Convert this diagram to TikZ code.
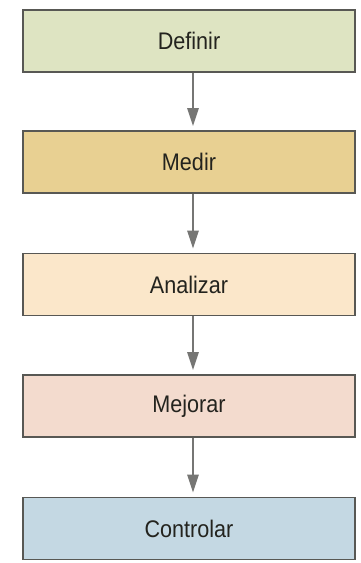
\documentclass[tikz,border=0pt]{standalone}
\usepackage{fontspec}
\setmainfont{Liberation Sans}[FakeStretch=0.9]
\usetikzlibrary{arrows.meta}
\newcommand{\BW}{332}
\newcommand{\BH}{62}
\definecolor{stdef}{RGB}{222,228,194}
\definecolor{stmed}{RGB}{232,208,146}
\definecolor{stana}{RGB}{251,231,202}
\definecolor{stmej}{RGB}{243,219,206}
\definecolor{stcon}{RGB}{196,216,227}
\definecolor{stline}{RGB}{88,88,84}
\definecolor{starrow}{RGB}{118,118,116}
\definecolor{sttext}{RGB}{35,35,30}

\begin{document}
\begin{tikzpicture}[
    x=0.5pt, y=-0.5pt,
    >={Triangle[length=9pt,width=5.5pt]},
    stage/.style={rectangle, draw=stline, line width=0.8pt, minimum width=\BW*0.5pt,
      minimum height=\BH*0.5pt, inner sep=0pt, text=sttext,
      font=\fontsize{12}{14}\selectfont},
    flow/.style={->, draw=starrow, fill=starrow, line width=1.3pt, shorten >=2pt},
  ]

  % page frame
  \useasboundingbox[fill=white] (0,0) rectangle (360,563);

  %% the five stages, top to bottom
  \node[stage, fill=stdef] (definir)   at (189,41)    {Definir};
  \node[stage, fill=stmed] (medir)     at (189,162)   {Medir};
  \node[stage, fill=stana] (analizar)  at (189,284.5) {Analizar};
  \node[stage, fill=stmej] (mejorar)   at (189,406)   {Mejorar};
  \node[stage, fill=stcon] (controlar) at (189,528.5) {Controlar};

  % each stage feeds the next one
  \foreach \a/\b in {definir/medir, medir/analizar, analizar/mejorar, mejorar/controlar} {
    \draw[flow] ([xshift=2pt]\a.south) -- ([xshift=2pt]\b.north);
  }

\end{tikzpicture}
\end{document}
